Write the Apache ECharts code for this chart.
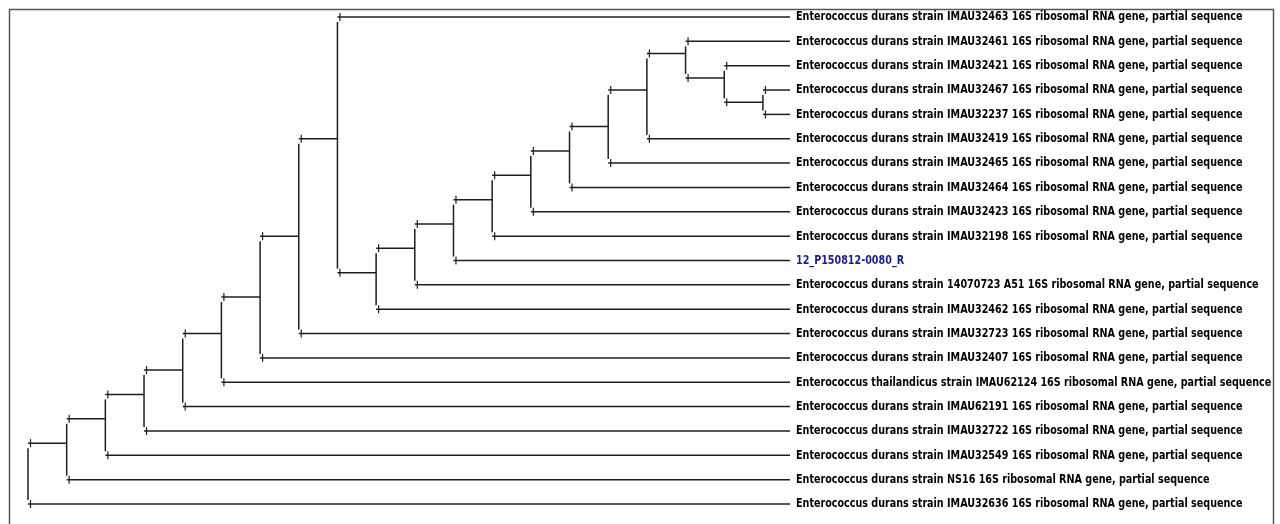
<!DOCTYPE html>
<html><head><meta charset="utf-8">
<script src="https://cdn.jsdelivr.net/npm/echarts@6/dist/echarts.min.js"></script>
<style>html,body{margin:0;padding:0;background:#fff;}#c{width:1280px;height:524px;}</style>
</head><body><div id="c"></div>
<script>
// ---- leaves (top to bottom) ----
const leafLabels = [
  'Enterococcus durans strain IMAU32463 16S ribosomal RNA gene, partial sequence',
  'Enterococcus durans strain IMAU32461 16S ribosomal RNA gene, partial sequence',
  'Enterococcus durans strain IMAU32421 16S ribosomal RNA gene, partial sequence',
  'Enterococcus durans strain IMAU32467 16S ribosomal RNA gene, partial sequence',
  'Enterococcus durans strain IMAU32237 16S ribosomal RNA gene, partial sequence',
  'Enterococcus durans strain IMAU32419 16S ribosomal RNA gene, partial sequence',
  'Enterococcus durans strain IMAU32465 16S ribosomal RNA gene, partial sequence',
  'Enterococcus durans strain IMAU32464 16S ribosomal RNA gene, partial sequence',
  'Enterococcus durans strain IMAU32423 16S ribosomal RNA gene, partial sequence',
  'Enterococcus durans strain IMAU32198 16S ribosomal RNA gene, partial sequence',
  '12_P150812-0080_R',
  'Enterococcus durans strain 14070723 A51 16S ribosomal RNA gene, partial sequence',
  'Enterococcus durans strain IMAU32462 16S ribosomal RNA gene, partial sequence',
  'Enterococcus durans strain IMAU32723 16S ribosomal RNA gene, partial sequence',
  'Enterococcus durans strain IMAU32407 16S ribosomal RNA gene, partial sequence',
  'Enterococcus thailandicus strain IMAU62124 16S ribosomal RNA gene, partial sequence',
  'Enterococcus durans strain IMAU62191 16S ribosomal RNA gene, partial sequence',
  'Enterococcus durans strain IMAU32722 16S ribosomal RNA gene, partial sequence',
  'Enterococcus durans strain IMAU32549 16S ribosomal RNA gene, partial sequence',
  'Enterococcus durans strain NS16 16S ribosomal RNA gene, partial sequence',
  'Enterococcus durans strain IMAU32636 16S ribosomal RNA gene, partial sequence'
];
const leafParent = ['H','Q','R','S','S','P','O','N','M','L','K','J','I','G','F','E','D','C','B','A','root'];
const highlightLeaf = '12_P150812-0080_R';
const tipDepth = 19.7;

// ---- internal nodes ----
const nodeIds    = ['root','A','B','C','D','E','F','G','H','I','J','K','L','M','N','O','P','Q','R','S'];
const nodeParent = [null,'root','A','B','C','D','E','F','G','H','I','J','K','L','M','N','O','P','Q','R'];
const nodeDepth  = [0,1,2,3,4,5,6,7,8,9,10,11,12,13,14,15,16,17,18,19];
const nodeRow    = [18.5,17.5,16.5,15.5,14.5,13,11.5,9,5,10.5,9.5,8.5,7.5,6.5,5.5,4.5,3,1.5,2.5,3.5];

// ---- build branch / vertical data ----
const idx = {}; nodeIds.forEach((n,i)=>idx[n]=i);
const branches = []; // [parentDepth, childDepth, childRow]
const childRows = nodeIds.map(()=>[]);
nodeIds.forEach((n,i)=>{
  const p = nodeParent[i]; if (p === null) return;
  branches.push([nodeDepth[idx[p]], nodeDepth[i], nodeRow[i]]);
  childRows[idx[p]].push(nodeRow[i]);
});
leafLabels.forEach((l,i)=>{
  const p = leafParent[i];
  branches.push([nodeDepth[idx[p]], tipDepth, i]);
  childRows[idx[p]].push(i);
});
const verticals = nodeIds.map((n,i)=>[nodeDepth[i], Math.min(...childRows[i]), Math.max(...childRows[i])]);
const leafPoints = leafLabels.map((l,i)=>[tipDepth, i]);

const LINE = '#1e1e1e', LW = 1.5;
const FONT = "bold 13px 'DejaVu Sans Condensed','DejaVu Sans',sans-serif";

const chart = echarts.init(document.getElementById('c'));
chart.setOption({
  animation: false,
  backgroundColor: '#fff',
  grid: {left: 28, top: 17, width: 762, height: 487},
  xAxis: {type: 'value', min: 0, max: tipDepth, show: false},
  yAxis: {type: 'value', min: 0, max: leafLabels.length - 1, inverse: true, show: false},
  graphic: [{type: 'rect', left: 7, top: 7, shape: {width: 1264, height: 540},
             style: {fill: 'none', stroke: '#555', lineWidth: 1.5}, silent: true}],
  series: [
    {
      type: 'custom', data: verticals, encode: {x: 0, y: [1, 2]}, silent: true,
      renderItem(params, api) {
        const a = api.coord([api.value(0), api.value(1)]);
        const b = api.coord([api.value(0), api.value(2)]);
        return {type: 'line', shape: {x1: a[0], y1: a[1] + 5, x2: b[0], y2: b[1] - 4},
                style: {stroke: LINE, lineWidth: LW}};
      }
    },
    {
      type: 'custom', data: branches, encode: {x: [0, 1], y: 2}, silent: true,
      renderItem(params, api) {
        const p = api.coord([api.value(0), api.value(2)]);
        const c = api.coord([api.value(1), api.value(2)]);
        return {type: 'group', children: [
          {type: 'line', shape: {x1: p[0], y1: p[1], x2: c[0], y2: c[1]}, style: {stroke: LINE, lineWidth: LW}},
          {type: 'line', shape: {x1: p[0] + 2.5, y1: p[1] - 4, x2: p[0] + 2.5, y2: p[1] + 4}, style: {stroke: LINE, lineWidth: 1.2}}
        ]};
      }
    },
    {
      type: 'custom', data: leafPoints, encode: {x: 0, y: 1}, silent: true,
      renderItem(params, api) {
        const c = api.coord([api.value(0), api.value(1)]);
        const txt = leafLabels[params.dataIndex];
        return {type: 'text', x: c[0] + 6, y: c[1], scaleX: 0.82,
                style: {text: txt, font: FONT, fill: txt === highlightLeaf ? '#1c1c8c' : '#000',
                        align: 'left', verticalAlign: 'middle'}};
      }
    }
  ]
});
</script></body></html>
